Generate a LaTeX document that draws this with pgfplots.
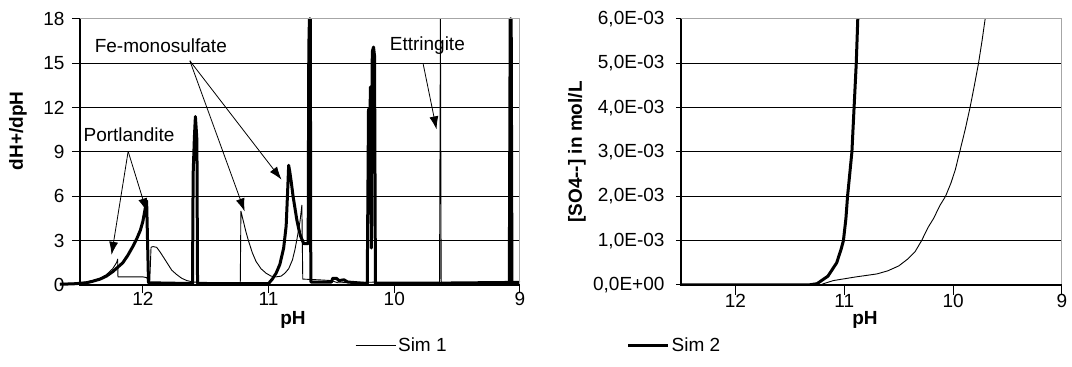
\documentclass[border=0pt]{standalone}
\usepackage{fontspec}
\setmainfont{Liberation Sans}
\usepackage{pgfplots}
\pgfplotsset{compat=1.18}
\usetikzlibrary{arrows.meta}

\pgfplotstableread{
x y
12.66 0.1
12.55 0.12
12.45 0.2
12.40 0.3
12.34 0.45
12.29 0.7
12.24 1.1
12.21 1.5
12.20 1.75
12.198 0.55
12.10 0.55
12.00 0.55
11.97 0.5
11.955 0.25
11.945 0.25
11.935 2.55
11.92 2.6
11.89 2.55
11.86 2.2
11.83 1.8
11.80 1.4
11.77 1.0
11.73 0.7
11.69 0.45
11.65 0.3
11.60 0.2
11.40 0.15
11.225 0.15
11.22 5.0
11.20 4.3
11.18 3.6
11.16 3.0
11.13 2.2
11.10 1.6
11.06 1.1
11.02 0.8
10.98 0.6
10.94 0.55
10.90 0.6
10.87 0.8
10.84 1.1
10.81 1.7
10.79 2.4
10.77 3.3
10.75 4.3
10.735 5.4
10.728 0.4
10.60 0.35
10.50 0.3
10.45 0.15
10.10 0.2
9.64 0.2
9.633 18
9.627 0.2
9.00 0.25
}\simonedh

\pgfplotstableread{
x y
12.66 0.05
12.55 0.08
12.45 0.15
12.40 0.25
12.34 0.4
12.29 0.6
12.24 0.9
12.20 1.2
12.16 1.5
12.12 2.0
12.08 2.6
12.05 3.1
12.02 3.7
12.00 4.3
11.985 5.0
11.97 5.7
11.955 0.15
11.62 0.1
11.605 0.1
11.60 7.5
11.59 10.0
11.582 11.4
11.575 10.5
11.57 9.8
11.565 0.1
11.00 0.1
10.97 0.4
10.94 0.8
10.91 1.4
10.88 2.5
10.86 4.0
10.85 6.0
10.84 8.1
10.83 7.6
10.82 7.0
10.805 6.0
10.79 5.2
10.775 4.4
10.76 3.8
10.745 3.3
10.73 3.0
10.72 2.8
10.685 2.8
10.68 16
10.675 18
10.668 18
10.664 0.2
10.50 0.2
10.49 0.45
10.46 0.45
10.44 0.3
10.40 0.35
10.37 0.2
10.215 0.1
10.205 11.9
10.198 7.8
10.19 13.4
10.182 2.5
10.175 15.8
10.165 16.1
10.157 15.5
10.15 0.1
9.085 0.1
9.078 18
9.070 18
9.064 0.1
9.00 0.1
}\simtwodh

\pgfplotstableread{
x y
12.5 0
11.22 0
11.19 0.00003
11.1 0.0001
10.9 0.00018
10.7 0.00025
10.6 0.00032
10.5 0.00043
10.42 0.00058
10.35 0.00075
10.29 0.001
10.23 0.0013
10.18 0.0015
10.12 0.0018
10.07 0.002
10.02 0.0023
9.98 0.0026
9.94 0.003
9.89 0.0035
9.845 0.004
9.805 0.0045
9.767 0.005
9.735 0.0055
9.706 0.006
9.69 0.0063
}\simoneso

\pgfplotstableread{
x y
12.5 0
11.33 0
11.25 0.00003
11.15 0.0002
11.07 0.0005
11.03 0.0008
11.008 0.001
10.985 0.0015
10.97 0.002
10.95 0.0025
10.93 0.003
10.91 0.004
10.89 0.005
10.876 0.006
10.87 0.0063
}\simtwoso

\begin{document}
\begin{tikzpicture}[font=\fontsize{19}{22}\selectfont]
\pgfplotsset{
  every axis/.append style={font=\fontsize{19}{22}\selectfont},
  /pgf/number format/assume math mode=true,
  every axis label/.append style={font=\fontsize{19}{22}\selectfont\bfseries},
}
\begin{axis}[
  at={(80pt,82pt)}, anchor=south west,
  scale only axis, width=440pt, height=266pt,
  x dir=reverse, xmin=9, xmax=12.5, ymin=0, ymax=18,
  xtick={9,10,11,12}, ytick={0,3,...,18},
  xtick pos=bottom, ytick pos=left,
  tick align=outside, major tick length=8pt,
  tick style={black, line width=1pt},
  yticklabel style={xshift=-4pt},
  xticklabel style={yshift=4pt},
  axis line style={draw=none},
  ymajorgrids, grid style={black, line width=1pt},
  clip=false,
  xlabel={pH}, ylabel={dH+/dpH},
  xlabel style={at={(axis description cs:0.484,-0.132)}, anchor=center},
  ylabel style={at={(axis description cs:-0.141,0.58)}, anchor=center},
  legend columns=2,
  legend style={at={(axis description cs:0.625,-0.226)}, anchor=west,
    draw=none, fill=none, inner sep=0pt,
    /tikz/column 2/.style={column sep=178pt}},
  legend image code/.code={\draw[#1] (0pt,0pt) -- (40pt,0pt);},
  after end axis/.code={
    \draw[gray!70, line width=1pt] (axis cs:12.5,18) -- (axis cs:9,18) -- (axis cs:9,0);
    \draw[black, line width=1.3pt] (axis cs:12.5,18) -- (axis cs:12.5,0) -- (axis cs:9,0);
  },
]
\addplot[black, line width=0.9pt, line join=round] table {\simonedh};
\addlegendentry{Sim 1}
\addplot[black, line width=3pt, line join=round] table {\simtwodh};
\addlegendentry{Sim 2}
\draw[-{Latex[length=13pt,width=9pt]}, line width=0.8pt] (axis cs:12.117,9.04) -- (axis cs:12.249,2.04);
\draw[-{Latex[length=13pt,width=9pt]}, line width=0.8pt] (axis cs:12.117,9.04) -- (axis cs:11.97,4.98);
\node at (axis cs:12.11,10.2) {Portlandite};
\draw[-{Latex[length=13pt,width=9pt]}, line width=0.8pt] (axis cs:11.626,15.17) -- (axis cs:11.19,4.98);
\draw[-{Latex[length=13pt,width=9pt]}, line width=0.8pt] (axis cs:11.626,15.17) -- (axis cs:10.897,7.13);
\node at (axis cs:11.857,16.17) {Fe-monosulfate};
\draw[-{Latex[length=13pt,width=9pt]}, line width=0.8pt] (axis cs:9.77,14.95) -- (axis cs:9.664,10.53);
\node at (axis cs:9.737,16.17) {Ettringite};
\end{axis}

\begin{axis}[
  at={(681pt,82pt)}, anchor=south west,
  scale only axis, width=381pt, height=266pt,
  x dir=reverse, xmin=9, xmax=12.5, ymin=0, ymax=0.006,
  xtick={9,10,11,12},
  ytick={0,0.001,0.002,0.003,0.004,0.005,0.006},
  yticklabels={{0,0E+00},{1,0E-03},{2,0E-03},{3,0E-03},{4,0E-03},{5,0E-03},{6,0E-03}},
  scaled y ticks=false,
  xtick pos=bottom, ytick pos=left,
  xtick align=outside, ytick align=center, major tick length=10pt,
  tick style={black, line width=1pt},
  yticklabel style={xshift=-8pt},
  xticklabel style={yshift=4pt},
  axis line style={draw=none},
  ymajorgrids, grid style={black, line width=1pt},
  xlabel={pH}, ylabel={[SO4-{}-] in mol/L},
  xlabel style={at={(axis description cs:0.483,-0.132)}, anchor=center},
  ylabel style={at={(axis description cs:-0.273,0.5)}, anchor=center},
  after end axis/.code={
    \draw[gray!70, line width=1pt] (axis cs:12.5,0.006) -- (axis cs:9,0.006) -- (axis cs:9,0);
    \draw[black, line width=1.3pt] (axis cs:12.5,0.006) -- (axis cs:12.5,0) -- (axis cs:9,0);
  },
]
\addplot[black, line width=0.9pt, line join=round] table {\simoneso};
\addplot[black, line width=3pt, line join=round] table {\simtwoso};
\end{axis}
\pgfresetboundingbox
\useasboundingbox (0,0) rectangle (1072pt,367pt);
\end{tikzpicture}
\end{document}
